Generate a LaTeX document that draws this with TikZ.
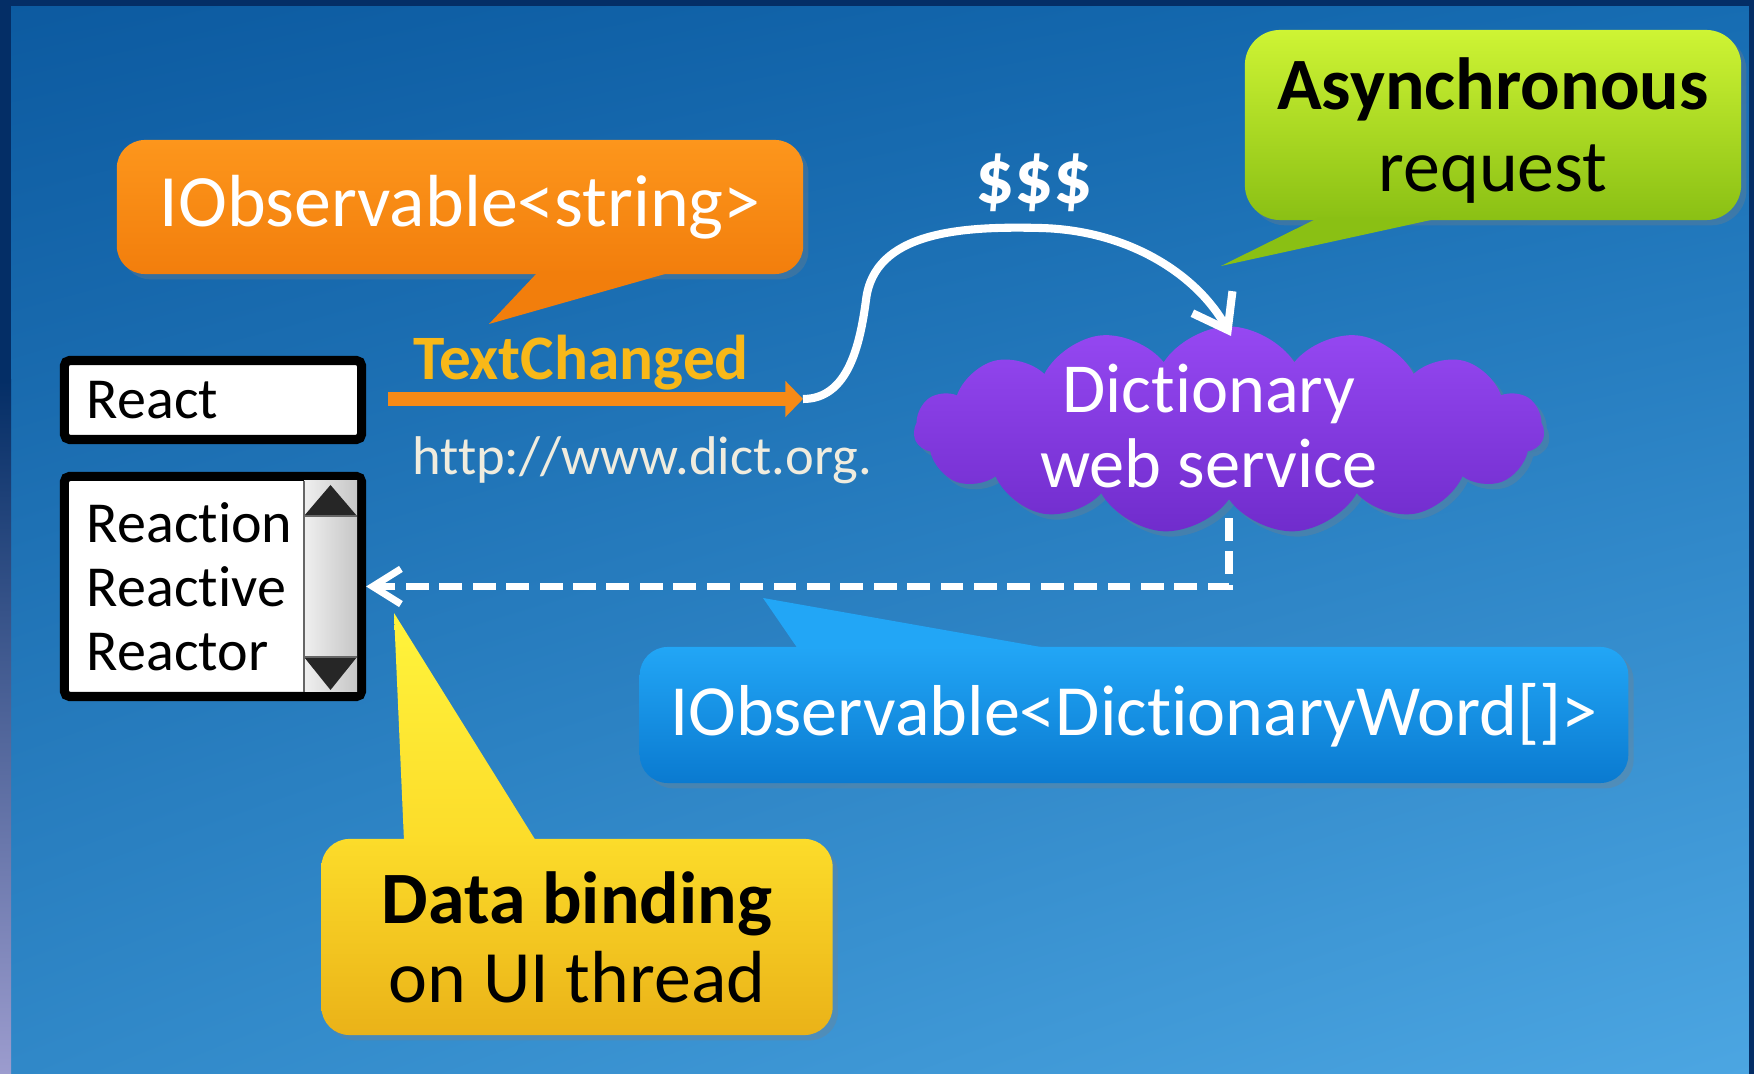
\documentclass[tikz,border=0pt]{standalone}
\usepackage{fontspec}
\setmainfont{Carlito}[Ligatures=NoCommon]
\usepackage{tikz}
\usetikzlibrary{arrows.meta,shapes.symbols,shadows,shadings}

\definecolor{navyframe}{RGB}{4,46,102}
\definecolor{lavender}{RGB}{156,156,206}
\definecolor{bgtl}{RGB}{12,90,160}
\definecolor{bgtr}{RGB}{22,108,178}
\definecolor{bgbl}{RGB}{48,136,200}
\definecolor{bgbr}{RGB}{76,166,226}
\definecolor{orangetop}{RGB}{253,150,28}
\definecolor{orangebot}{RGB}{242,126,12}
\definecolor{greentop}{RGB}{206,244,52}
\definecolor{greenbot}{RGB}{138,192,20}
\definecolor{bluetop}{RGB}{34,166,246}
\definecolor{bluebot}{RGB}{10,122,208}
\definecolor{yellowtop}{RGB}{252,220,42}
\definecolor{yellowbot}{RGB}{234,178,24}
\definecolor{yellowtip}{RGB}{255,244,60}
\definecolor{purpletop}{RGB}{150,72,242}
\definecolor{purplebot}{RGB}{112,44,204}
\definecolor{goldtext}{RGB}{248,184,24}
\definecolor{urlcream}{RGB}{240,236,222}
\definecolor{evtorange}{RGB}{246,138,22}

\begin{document}
\begin{tikzpicture}[x=0.01cm,y=-0.01cm,
        txt/.style={font=\fontsize{21}{22.5}\selectfont},
        callout/.style={txt,rounded corners=8pt,align=center,inner sep=0pt,
            drop shadow={shadow xshift=1.5pt,shadow yshift=-1.5pt,opacity=0.3}},
        uibox/.style={draw=black,line width=2.6pt,fill=white,rounded corners=1.5pt,
            inner xsep=0.225cm,inner ysep=0pt,text width=2.52cm,align=left,
            font=\fontsize{16.5}{18.2}\selectfont},
        evtline/.style={evtorange,line width=4pt,-{Triangle[length=5pt,width=10pt]}},
        reqline/.style={white,line width=2.3pt,-{Straight Barb[length=9pt,width=13pt]}},
        respline/.style={white,line width=2pt,dash pattern=on 6.5pt off 3pt,
            -{Straight Barb[length=8pt,width=10pt]}}]
        \useasboundingbox (0,0) rectangle (1754,1074);
        \shade[upper left=bgtl,upper right=bgtr,lower left=bgbl,lower right=bgbr] (0,0) rectangle (1754,1074);
        \fill[navyframe] (0,0) rectangle (1754,6);
        \fill[navyframe] (1749,0) rectangle (1754,1074);
        \fill[navyframe] (0,0) rectangle (11,380);
        \shade[top color=navyframe,bottom color=lavender] (0,380) rectangle (11,1074);

        \node[callout,top color=orangetop,bottom color=orangebot,text=white,
            minimum width=6.86cm,minimum height=1.34cm] at (460,207) (obsString) {IObservable<string>};
        \node[callout,top color=greentop,bottom color=greenbot,rounded corners=10pt,
            font=\fontsize{21}{23.3}\selectfont,text depth=0pt,
            minimum width=4.96cm,minimum height=1.9cm] at (1493,125) (asyncNote) {\textbf{Asynchronous}\\request};
        \fill[orangebot] (538,272) -- (489,324) -- (672,272) -- cycle;
        \fill[greenbot] (1318,218) -- (1221,266) -- (1440,218) -- cycle;

        \node[uibox,minimum height=0.79cm] at (213,400) (react) {React};
        \node[uibox,minimum height=2.2cm] at (213,586.5) (listBox) {Reaction\\Reactive\\Reactor};
        \shade[left color=gray!12,right color=gray!45] (304,481) rectangle (357,692);
        \fill[black!85] (304,516) -- (357,516) -- (330.5,485) -- cycle;
        \fill[black!85] (304,657) -- (357,657) -- (330.5,690) -- cycle;
        \draw[black!60,line width=0.6pt] (304,481) -- (304,692) (304,516) -- (357,516) (304,657) -- (357,657);

        \node[anchor=base,text=goldtext,font=\fontsize{18}{20}\selectfont\bfseries] at (581,380) (txtChanged) {TextChanged};
        \node[anchor=base west,text=urlcream,font=\fontsize{15.5}{17}\selectfont] at (400,475) (url) {http://www.dict.org.};
        \node[anchor=base,text=white,font=\fontsize{22}{24}\selectfont\bfseries] at (1034,204) (cost) {\$\$\$};

        \node[cloud,cloud puffs=15,cloud puff arc=115,cloud ignores aspect,
            minimum width=6.3cm,minimum height=2.07cm,top color=purpletop,bottom color=purplebot,
            inner sep=0pt,drop shadow={shadow xshift=1.5pt,shadow yshift=-1.5pt,opacity=0.3},
            label={[font=\fontsize{20}{21.3}\selectfont,text=white,align=center,xshift=-0.2cm,yshift=0.04cm]center:{Dictionary\\web service}}]
            at (1229,430) (dictSvc) {};

        \coordinate (evtStart) at (388,399);
        \coordinate (evt) at (803,399);
        \coordinate (svcTop) at (1231,336);
        \draw[evtline] (evtStart) -- (evt);
        \draw[reqline] (evt) .. controls (848,399) and (860,345) .. (866,300)
            .. controls (874,232) and (960,226) .. (1040,228)
            .. controls (1130,230) and (1198,276) .. (svcTop);
        \draw[respline] ([yshift=-5pt]dictSvc.south) |- (listBox.east);

        \node[callout,top color=bluetop,bottom color=bluebot,text=white,font=\fontsize{20.5}{22}\selectfont,
            minimum width=9.88cm,minimum height=1.36cm] at (1134,715) (obsWords) {IObservable<DictionaryWord[]>};
        \node[callout,top color=yellowtop,bottom color=yellowbot,
            minimum width=5.11cm,minimum height=1.96cm] at (577,937) (bindNote) {\textbf{Data binding}\\on UI thread};
        \fill[bluetop] (798,649) -- (763,598) -- (1052,649) -- cycle;
        \shade[top color=yellowtip,bottom color=yellowtop] (404,841) -- (394,613) -- (536,841) -- cycle;
\end{tikzpicture}
\end{document}
